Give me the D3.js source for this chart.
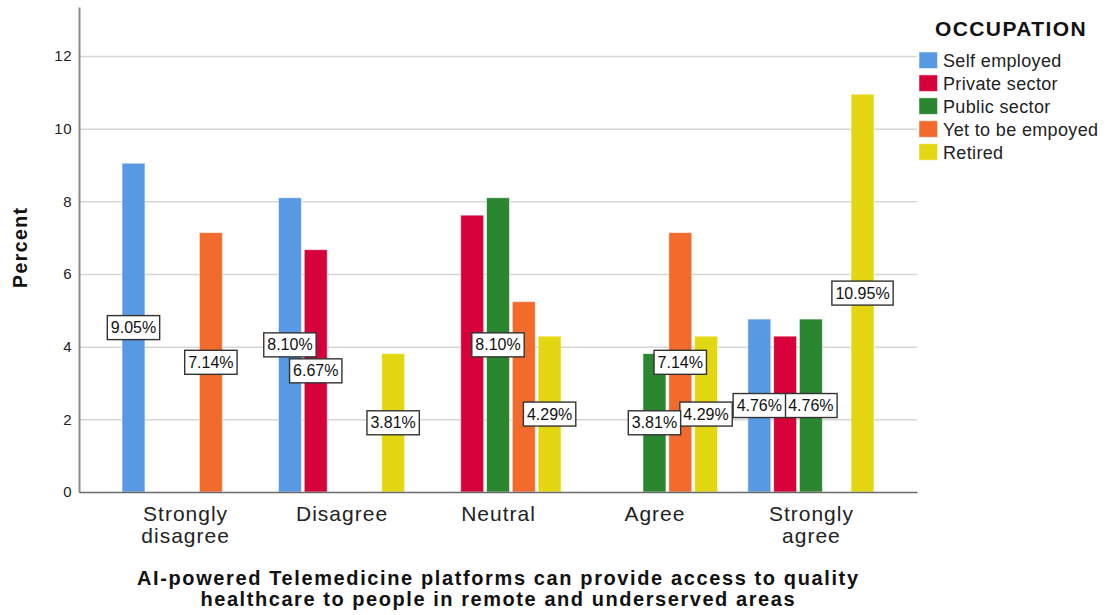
<!DOCTYPE html>
<html>
<head>
<meta charset="utf-8">
<script src="https://cdn.jsdelivr.net/npm/d3@7"></script>
<style>
  body { margin: 0; background: #fff; }
  svg { display: block; font-family: "Liberation Sans", Arial, sans-serif; }
</style>
</head>
<body>
<script>
// ---------- data ----------
const categories = ["Strongly disagree", "Disagree", "Neutral", "Agree", "Strongly agree"];
const seriesNames = ["Self employed", "Private sector", "Public sector", "Yet to be empoyed", "Retired"];
const selfEmployed    = [9.05, 8.10, 0,    0,    4.76];
const privateSector   = [0,    6.67, 7.62, 0,    4.29];
const publicSector    = [0,    0,    8.10, 3.81, 4.76];
const yetToBeEmpoyed  = [7.14, 0,    5.24, 7.14, 0];
const retired         = [0,    3.81, 4.29, 4.29, 10.95];
const yTicks = [0, 2, 4, 6, 8, 10, 12];
const legendTitle = "OCCUPATION";
const yTitle = "Percent";
const xTitleLines = ["AI-powered Telemedicine platforms can provide access to quality",
                     "healthcare to people in remote and underserved areas"];

// ---------- styles ----------
const palette = ["#5899e3", "#d6003a", "#2a862f", "#f26a2c", "#e3d712"];
const seriesValues = [selfEmployed, privateSector, publicSector, yetToBeEmpoyed, retired];

const W = 1108, H = 615;
const plotLeft = 79, plotRight = 917, plotBottom = 492, plotTop = 7;

const svg = d3.select("body").append("svg").attr("width", W).attr("height", H);

const x0 = d3.scaleBand().domain(categories).range([plotLeft, plotRight]).paddingInner(0).paddingOuter(0.178);
const groupW = 129;
const x1 = d3.scaleBand().domain(seriesNames).range([0, groupW]).paddingInner(0.11).paddingOuter(0.055);
const y = d3.scaleLinear().domain([0, 13.35]).range([plotBottom, plotTop]);
const color = d3.scaleOrdinal().domain(seriesNames).range(palette);

// gridlines
svg.append("g")
  .attr("transform", `translate(${plotLeft},0)`)
  .call(d3.axisLeft(y).tickValues(yTicks.filter(d => d > 0)).tickSize(-(plotRight - plotLeft)).tickFormat(""))
  .call(g => g.select(".domain").remove())
  .selectAll("line").attr("stroke", "#d5d5d5").attr("stroke-width", 1.5);

// bars
const rows = [];
categories.forEach((c, i) => {
  seriesNames.forEach((s, j) => {
    rows.push({ cat: c, series: s, j: j, value: seriesValues[j][i] });
  });
});
const barX = d => x0(d.cat) + (x0.bandwidth() - groupW) / 2 + x1(d.series);

svg.append("g").selectAll("rect")
  .data(rows.filter(d => d.value > 0))
  .join("rect")
  .attr("x", barX)
  .attr("y", d => y(d.value))
  .attr("width", x1.bandwidth())
  .attr("height", d => y(0) - y(d.value))
  .attr("fill", d => color(d.series))
  .attr("stroke", "#ffffff")
  .attr("stroke-opacity", 0.55)
  .attr("stroke-width", 1);

// axes
const yAxis = svg.append("g")
  .attr("transform", `translate(${plotLeft},0)`)
  .call(d3.axisLeft(y).tickValues(yTicks).tickSize(0).tickSizeOuter(0).tickPadding(7));
yAxis.select(".domain").attr("stroke", "#8a8a8a").attr("stroke-width", 2);
yAxis.selectAll("text")
  .attr("font-family", "Liberation Sans, Arial, sans-serif")
  .attr("font-size", 15).attr("fill", "#222").attr("letter-spacing", 0.5);

const xAxis = svg.append("g")
  .attr("transform", `translate(0,${plotBottom})`)
  .call(d3.axisBottom(x0).tickSize(0).tickSizeOuter(0).tickFormat(""));
xAxis.select(".domain").attr("stroke", "#6a6a6a").attr("stroke-width", 1.5);

// category labels
const catG = svg.append("g");
categories.forEach(c => {
  const words = c.split(" ");
  const lines = words.length > 1 ? [words[0], words.slice(1).join(" ")] : [c];
  const cx = x0(c) + x0.bandwidth() / 2 + 0.5;
  const t = catG.append("text")
    .attr("x", cx)
    .attr("y", plotBottom + 29)
    .attr("text-anchor", "middle")
    .attr("font-size", 21)
    .attr("letter-spacing", 1)
    .attr("fill", "#222");
  lines.forEach((ln, k) => {
    t.append("tspan").attr("x", cx).attr("dy", k === 0 ? 0 : 22).text(ln);
  });
});

// x title
const xTitleLens = [721, 594];
xTitleLines.forEach((ln, k) => {
  svg.append("text")
    .attr("x", 497.5)
    .attr("y", 585 + k * 21)
    .attr("text-anchor", "middle")
    .attr("font-size", 20)
    .attr("font-weight", "bold")
    .attr("fill", "#111")
    .attr("textLength", xTitleLens[k])
    .attr("lengthAdjust", "spacing")
    .text(ln);
});

// y title
svg.append("text")
  .attr("transform", "translate(27,248) rotate(-90)")
  .attr("text-anchor", "middle")
  .attr("font-size", 19.5)
  .attr("font-weight", "bold")
  .attr("fill", "#111")
  .attr("textLength", 80)
  .attr("lengthAdjust", "spacing")
  .text(yTitle);

// value labels (greedy, hide overlapping ones)
const labelG = svg.append("g");
const placed = [];
const order = rows.filter(d => d.value > 0).sort((a, b) => b.j - a.j);
order.forEach(d => {
  const cx = barX(d) + x1.bandwidth() / 2;
  const cy = y(d.value / 2);
  const txt = d.value.toFixed(2) + "%";
  const g = labelG.append("g");
  const t = g.append("text")
    .attr("x", cx).attr("y", cy + 5.5)
    .attr("text-anchor", "middle")
    .attr("font-size", 16)
    .attr("fill", "#111")
    .text(txt);
  const tw = t.node().getComputedTextLength();
  const bw = tw + 7, bh = 24;
  const box = { x0: cx - bw / 2, x1: cx + bw / 2, y0: cy - bh / 2, y1: cy + bh / 2 };
  const tol = 3;
  const clash = placed.some(p =>
    Math.min(p.x1, box.x1) - Math.max(p.x0, box.x0) > tol &&
    Math.min(p.y1, box.y1) - Math.max(p.y0, box.y0) > tol);
  if (clash) { g.remove(); return; }
  placed.push(box);
  g.insert("rect", "text")
    .attr("x", box.x0).attr("y", box.y0)
    .attr("width", bw).attr("height", bh)
    .attr("fill", "#fff")
    .attr("stroke", "#333")
    .attr("stroke-width", 1.4);
});

// legend
const lg = svg.append("g");
lg.append("text")
  .attr("x", 1011).attr("y", 36)
  .attr("text-anchor", "middle")
  .attr("font-size", 21)
  .attr("font-weight", "bold")
  .attr("letter-spacing", 1.4)
  .attr("fill", "#111")
  .text(legendTitle);
const ly = d3.scalePoint().domain(seriesNames).range([60, 151.7]);
seriesNames.forEach(s => {
  lg.append("rect")
    .attr("x", 919).attr("y", ly(s) - 8)
    .attr("width", 18.5).attr("height", 16.5)
    .attr("fill", color(s))
    .attr("stroke", "#fff").attr("stroke-opacity", 0.5);
  lg.append("text")
    .attr("x", 943).attr("y", ly(s) + 7)
    .attr("font-size", 18)
    .attr("letter-spacing", 0.35)
    .attr("fill", "#222")
    .text(s);
});
</script>
</body>
</html>
